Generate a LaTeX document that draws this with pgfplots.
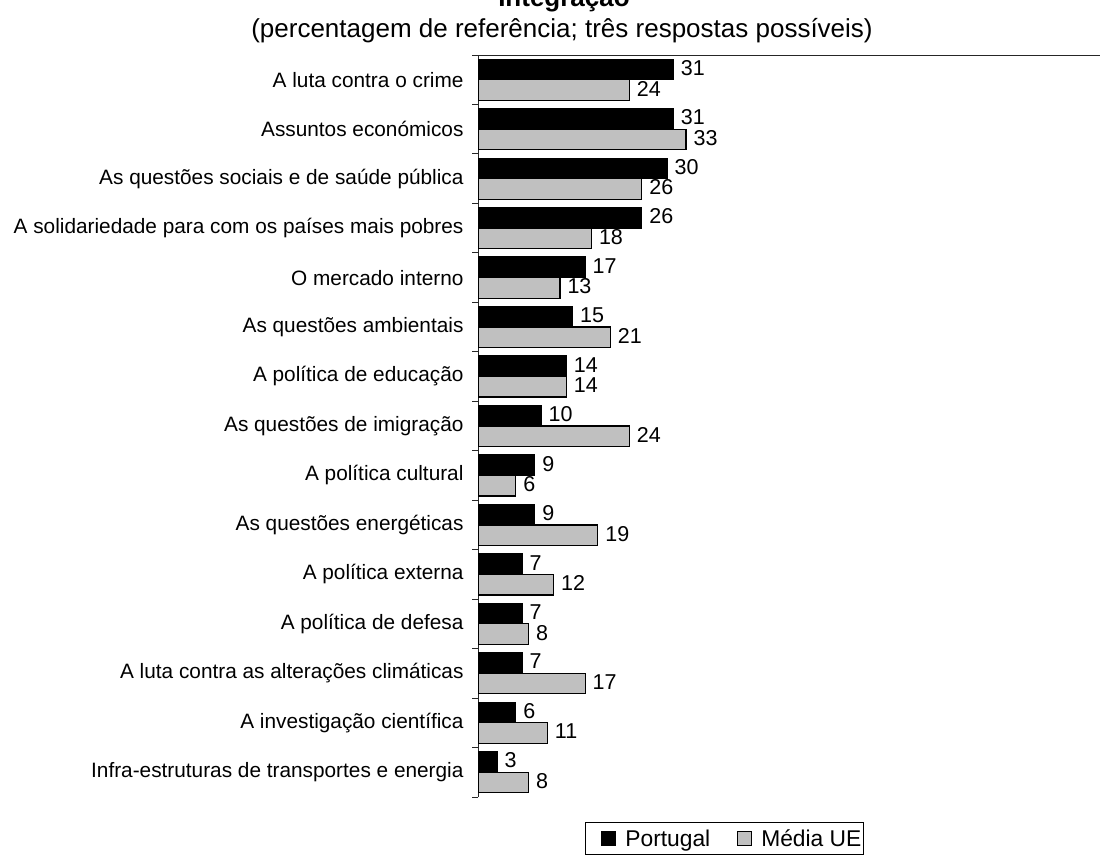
\documentclass[border=0pt]{standalone}
\usepackage{pgfplots}
\pgfplotsset{compat=1.18}
\usepackage{fontspec}
\setmainfont{Liberation Sans}
\definecolor{ugray}{HTML}{C0C0C0}
\begin{document}
\begin{tikzpicture}
\useasboundingbox (0,0) rectangle (1107pt,-854pt);
\node[overlay, anchor=base, font=\bfseries\fontsize{26}{30}\selectfont] at (564pt,-6pt) {Integração};
\node[anchor=base, font=\fontsize{26}{30}\selectfont] at (562pt,-37pt) {(percentagem de referência; três respostas possíveis)};
\begin{axis}[
  at={(478pt,-797pt)}, anchor=south west,
  scale only axis, width=622pt, height=742pt,
  xmin=0, xmax=98.7,
  ymin=-0.5, ymax=14.5,
  axis x line*=top, axis y line*=left,
  axis line style={line width=1pt, black!85},
  xtick=\empty,
  ytick={0,...,14},
  yticklabels={Infra-estruturas de transportes e energia,
    A investigação científica,
    A luta contra as alterações climáticas,
    A política de defesa,
    A política externa,
    As questões energéticas,
    A política cultural,
    As questões de imigração,
    A política de educação,
    As questões ambientais,
    O mercado interno,
    A solidariedade para com os países mais pobres,
    As questões sociais e de saúde pública,
    Assuntos económicos,
    A luta contra o crime},
  major tick length=0pt,
  minor ytick={-0.5,0.5,...,14.5},
  minor tick length=6pt,
  tick align=outside,
  tick style={line width=1pt, black!85},
  y tick label style={font=\fontsize{20.8}{24}\selectfont, anchor=east, xshift=-11pt},
  xbar, bar width=0.415,
  point meta=x,
  /pgf/number format/assume math mode=true,
  nodes near coords,
  every node near coord/.append style={anchor=west, font=\fontsize{21.5}{24}\selectfont, inner sep=0pt, xshift=7pt, yshift=1.5pt, text=black},
  legend columns=2,
  legend style={at={(0.172,-0.0337)}, anchor=north west, draw=black, line width=0.8pt,
    font=\fontsize{22.8}{26}\selectfont, inner xsep=0pt, inner ysep=5pt,
    /tikz/every odd column/.append style={column sep=8pt},
    /tikz/every even column/.append style={column sep=9pt}},
  legend image code/.code={\path (0pt,0pt); \draw[#1, line width=0.8pt, draw=black] (15pt,-7pt) rectangle (29pt,7pt);},
]
\addplot[fill=black, draw=black, line width=1.2pt, bar shift=0.2075] coordinates {
  (3,0) (6,1) (7,2) (7,3) (7,4) (9,5) (9,6) (10,7) (14,8) (15,9) (17,10) (26,11) (30,12) (31,13) (31,14)};
\addplot[fill=ugray, draw=black, line width=1.2pt, bar shift=-0.2075] coordinates {
  (8,0) (11,1) (17,2) (8,3) (12,4) (19,5) (6,6) (24,7) (14,8) (21,9) (13,10) (18,11) (26,12) (33,13) (24,14)};
\legend{Portugal, Média UE}
\end{axis}
\end{tikzpicture}
\end{document}
